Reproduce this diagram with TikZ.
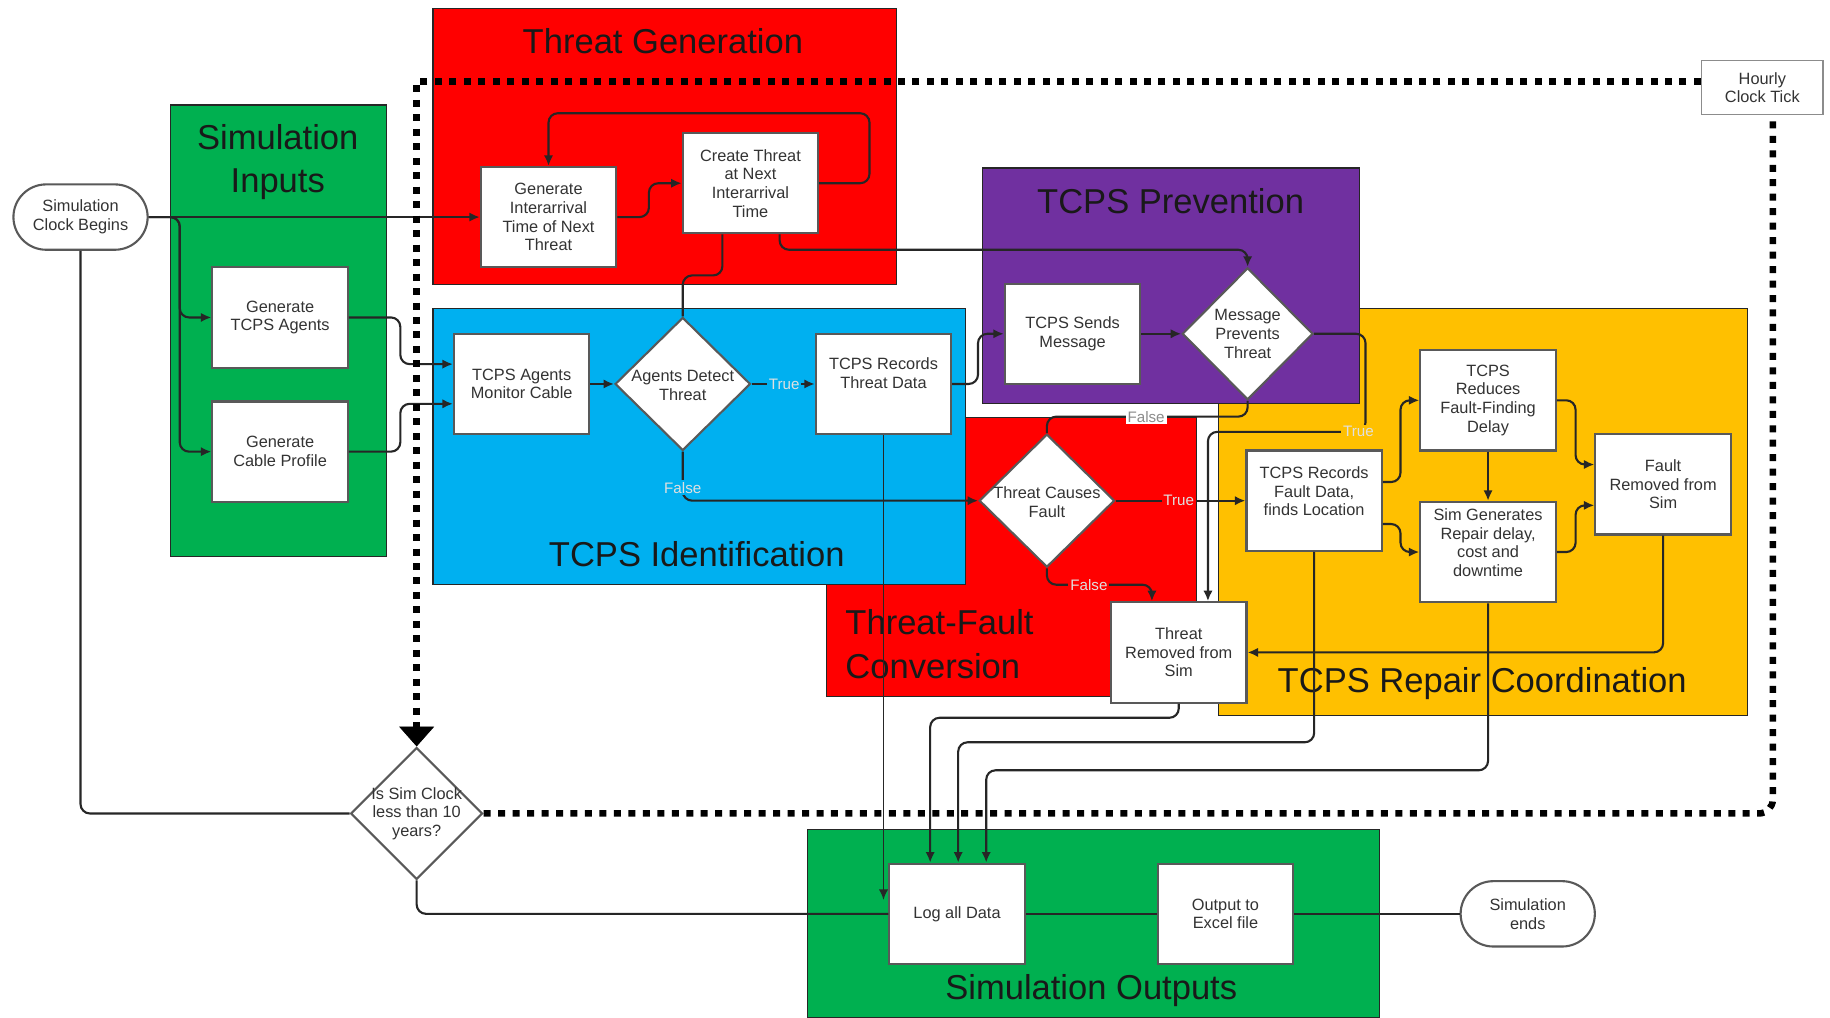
\documentclass[tikz,border=0pt]{standalone}
\usepackage{fontspec}
\setmainfont{Liberation Sans}
\usetikzlibrary{shapes.geometric,arrows.meta}
\definecolor{sgreen}{HTML}{00B050}
\definecolor{sred}{HTML}{FF0000}
\definecolor{sblue}{HTML}{00B0F0}
\definecolor{spurple}{HTML}{7030A0}
\definecolor{sorange}{HTML}{FFC000}
\tikzset{
  region/.style={draw=black!85, line width=0.5pt},
  ttl/.style={font=\fontsize{14.8}{18.5}\selectfont, text=black!90, align=center, inner sep=0pt},
  box/.style={draw=black!65, fill=white, line width=0.9pt, minimum width=58pt, minimum height=43pt,
    inner sep=1pt, align=center, font=\fontsize{7}{8}\selectfont, text=black!80},
  term/.style={box, rounded corners=14pt, minimum width=57.5pt, minimum height=28pt},
  clk/.style={box, draw=black!45, line width=0.6pt, minimum width=52pt, minimum height=23pt},
  dia/.style={diamond, draw=black!65, fill=white, line width=0.9pt, minimum width=58pt, minimum height=57pt, inner sep=0pt},
  dtxt/.style={align=center, font=\fontsize{7}{8}\selectfont, text=black!80, inner sep=0pt},
  conn/.style={draw=black!85, line width=0.9pt, rounded corners=4pt},
  arr/.style={conn, -{Latex[length=4.5pt,width=4pt]}},
  lbl/.style={font=\fontsize{6.5}{7}\selectfont, text=white!88!black, inner sep=0.8pt},
  dotline/.style={draw=black, line width=2.8pt, dash pattern=on 3pt off 3.2pt}
}
\begin{document}
\begin{tikzpicture}[x=0.5pt,y=-0.5pt]
\path[use as bounding box, fill=white] (0,0) rectangle (1568,872);
% regions
\filldraw[region,fill=sgreen] (146,90) rectangle (331,477);
\filldraw[region,fill=sred] (371,7) rectangle (768,244);
\filldraw[region,fill=sorange] (1044,264) rectangle (1497,613);
\filldraw[region,fill=spurple] (842,144) rectangle (1165,346);
\filldraw[region,fill=sred] (708,358) rectangle (1025,597);
\filldraw[region,fill=sblue] (371,264) rectangle (827,501);
\filldraw[region,fill=sgreen] (692,711) rectangle (1182,872);
% titles
\node[ttl] (t1) at (238,139) {Simulation\\Inputs};
\node[ttl] (t2) at (568,35) {Threat Generation};
\node[ttl] (t3) at (1003,172) {TCPS Prevention};
\node[ttl] (t4) at (597,475) {TCPS Identification};
\node[ttl, align=left, anchor=west] (t5) at (724,552) {Threat-Fault\\Conversion};
\node[ttl] (t6) at (1270,586) {TCPS Repair Coordination};
\node[ttl] (t7) at (935,849) {Simulation Outputs};
% nodes
\node[term] (scb) at (69,186) {Simulation\\Clock Begins};
\node[clk] (hct) at (1510,75) {Hourly\\Clock Tick};
\node[box] (gta) at (240,272) {Generate\\TCPS Agents};
\node[box] (gcp) at (240,387) {Generate\\Cable Profile};
\node[box] (gia) at (470,186) {Generate\\Interarrival\\Time of Next\\Threat};
\node[box] (ctn) at (643,157) {Create Threat\\at Next\\Interarrival\\Time};
\node[box] (amc) at (447,329) {TCPS Agents\\Monitor Cable};
\node[dia] (adt) at (585,329) {};
\node[dtxt] (adtx) at (585,330) {Agents Detect\\Threat};
\node[box] (rtd) at (757,329) {};
\node[dtxt] (rtdx) at (757,320) {TCPS Records\\Threat Data};
\node[box] (tsm) at (919,286) {TCPS Sends\\Message};
\node[dia, minimum width=56pt, minimum height=56.5pt] (mpt) at (1069,286) {};
\node[dtxt] (mptx) at (1069,286) {Message\\Prevents\\Threat};
\node[dia] (tcf) at (897,429) {};
\node[dtxt] (tcfx) at (897,430) {Threat Causes\\Fault};
\node[box] (rfd) at (1126,429) {};
\node[dtxt] (rfdx) at (1126,421) {TCPS Records\\Fault Data,\\finds Location};
\node[box] (rdd) at (1275,343) {TCPS\\Reduces\\Fault-Finding\\Delay};
\node[box] (sgr) at (1275,473) {};
\node[dtxt] (sgrx) at (1275,465) {Sim Generates\\Repair delay,\\cost and\\downtime};
\node[box] (frs) at (1425,415) {Fault\\Removed from\\Sim};
\node[box] (trs) at (1010,559) {Threat\\Removed from\\Sim};
\node[dia, minimum width=56.5pt, minimum height=56.5pt] (isc) at (357,697) {};
\node[dtxt] (iscx) at (357,697) {Is Sim Clock\\less than 10\\years?};
\node[box] (lad) at (820,783) {Log all Data};
\node[box] (oef) at (1050,783) {Output to\\Excel file};
\node[term] (sen) at (1309,783) {Simulation\\ends};
\coordinate (ldin) at (757,771);
% connectors
\draw[arr] (scb.east) -- (gia.west);
\draw[arr] (scb.east) -| (154,272) -- (gta.west);
\draw[arr] (scb.east) -| (154,387) -- (gcp.west);
\draw[arr] (gta.east) -| (343,312) -- (amc.west |- 0,312);
\draw[arr] (gcp.east) -| (343,346) -- (amc.west |- 0,346);
\draw[arr] (gia.east) -| (556,157) -- (ctn.west);
\draw[arr] (ctn.east) -| (745,97) -| (gia.north);
\draw[conn] (ctn.south -| 619,0) |- (585,236) -- (adt.north);
\draw[arr] (ctn.south -| 668,0) |- (1069,214) -- (mpt.north);
\draw[arr] (amc.east) -- (adt.west);
\draw[arr] (adt.east) -- (rtd.west);
\draw[arr] (adt.south) |- (tcf.west);
\draw[arr] (rtd.east) -| (838,286) -- (tsm.west);
\draw[arr, line width=0.6pt] (rtd.south) -- (ldin);
\draw[arr] (tsm.east) -- (mpt.west);
\draw[arr] (mpt.east) -| (1170,370) -| (trs.north -| 1035,0);
\draw[conn] (mpt.south) |- (897,357) -- (tcf.north);
\draw[arr] (tcf.south) |- (987,501) -- (trs.north -| 987,0);
\draw[arr] (tcf.east) -- (rfd.west);
\draw[arr] (rfd.east |- 0,413) -| (1200,343) -- (rdd.west);
\draw[arr] (rfd.east |- 0,449) -| (1200,473) -- (sgr.west);
\draw[arr] (rdd.south) -- (sgr.north);
\draw[arr] (rdd.east) -| (1350,398) -- (frs.west |- 0,398);
\draw[arr] (sgr.east) -| (1350,433) -- (frs.west |- 0,433);
\draw[arr] (frs.south) |- (trs.east);
\draw[arr] (trs.south) |- (797,615) -- (lad.north -| 797,0);
\draw[arr] (rfd.south) |- (821,636) -- (lad.north -| 821,0);
\draw[arr] (sgr.south) |- (845,660) -- (lad.north -| 845,0);
\draw[conn] (isc.south) |- (lad.west);
\draw[conn] (scb.south) |- (isc.west);
\draw[conn] (lad.east) -- (oef.west);
\draw[conn] (oef.east) -- (sen.west);
% dotted loop
\draw[dotline, rounded corners=6pt] (isc.east) -| (hct.south -| 1519,0);
\draw[dotline, -{Triangle[width=15pt,length=8.5pt,line width=0.3pt]}] (hct.west |- 0,70) -| (isc.north);
% labels
\node[lbl, fill=sblue] (l1) at (672,329) {True};
\node[lbl, fill=sblue] (l2) at (585,418) {False};
\node[lbl, fill=sred] (l3) at (1010,429) {True};
\node[lbl, fill=sorange] (l4) at (1164,370) {True};
\node[lbl, fill=white, text=black!45] (l5) at (982,357) {False};
\node[lbl, fill=sred] (l6) at (933,501) {False};
\end{tikzpicture}
\end{document}
